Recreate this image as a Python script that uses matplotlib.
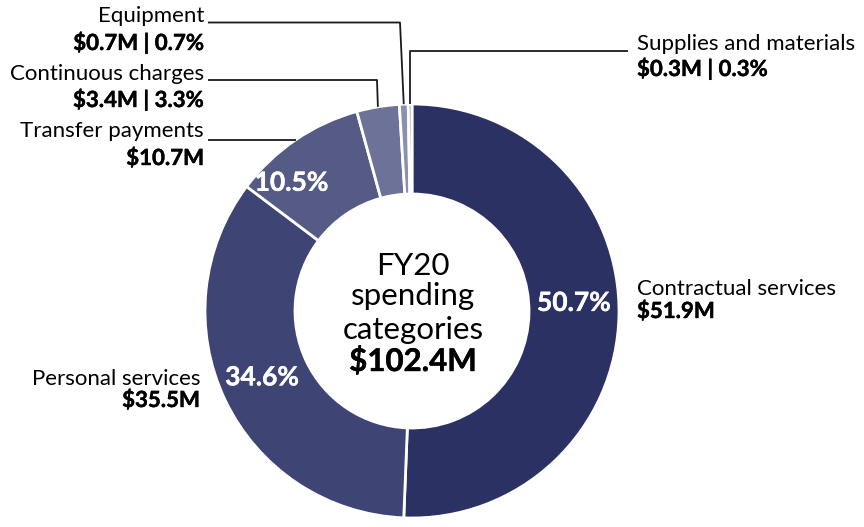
import numpy as np
import matplotlib.pyplot as plt
import matplotlib.patheffects as pe

plt.rcParams['font.family'] = ['Lato', 'DejaVu Sans']

# spending categories, clockwise from 12 o'clock
categories = ['Contractual services', 'Personal services', 'Transfer payments',
              'Continuous charges', 'Equipment', 'Supplies and materials']
amounts = [51.9, 35.5, 10.7, 3.4, 0.7, 0.3]
pct_labels = ['50.7%', '34.6%', '10.5%', '3.3%', '0.7%', '0.3%']
amount_labels = ['$51.9M', '$35.5M', '$10.7M', '$3.4M | 3.3%', '$0.7M | 0.7%', '$0.3M | 0.3%']
total_label = '$102.4M'
colors = ['#2b3162', '#3e4474', '#555b85', '#6d7299', '#8b8fb0', '#a3a7c2']

W, H = 864, 527
fig = plt.figure(figsize=(W / 100, H / 100), dpi=100)
ax = fig.add_axes([0, 0, 1, 1])
ax.set_xlim(0, W)
ax.set_ylim(0, H)
ax.set_aspect('equal')
ax.axis('off')


def Y(y):
    # image row -> data y
    return H - y


def thick(c):
    return [pe.withStroke(linewidth=0.3, foreground=c)]


cx, cy, R, ring = 412, 311, 207, 90
wedges, _ = ax.pie(amounts, colors=colors, startangle=90, counterclock=False,
                   center=(cx, Y(cy)), radius=R,
                   wedgeprops=dict(width=ring, edgecolor='white', linewidth=2))
ax.set_xlim(0, W)
ax.set_ylim(0, H)


def mid(i, r, shift=0):
    w = wedges[i]
    a = np.deg2rad((w.theta1 + w.theta2) / 2 + shift)
    return cx + r * np.cos(a), Y(cy) + r * np.sin(a)


# percent labels inside the ring for the big slices (radius, angle nudge)
pct_place = [(162, 4), (164, -1.5), (176, 9)]
for i, (r, s) in enumerate(pct_place):
    x, y = mid(i, r, s)
    ax.text(x, y, pct_labels[i], color='white', fontsize=19, fontweight='bold',
            ha='center', va='center', path_effects=thick('white'))

# centre text
ax.text(413, Y(275), 'FY20', fontsize=22.5, ha='center', va='baseline')
ax.text(413, Y(305), 'spending', fontsize=22.5, ha='center', va='baseline')
ax.text(413, Y(339), 'categories', fontsize=22.5, ha='center', va='baseline')
ax.text(413, Y(371), total_label, fontsize=22.5, fontweight='bold', ha='center', va='baseline',
        path_effects=thick('black'))

# outside labels: (x, name baseline, amount baseline, ha)
label_pos = [(637, 295, 318, 'left'),
             (200, 385, 407, 'right'),
             (204, 137, 165, 'right'),
             (204, 80, 107, 'right'),
             (204, 22, 50, 'right'),
             (637, 50, 76, 'left')]
for i, (x, yb1, yb2, ha) in enumerate(label_pos):
    ax.text(x, Y(yb1), categories[i], fontsize=16, ha=ha, va='baseline')
    ax.text(x, Y(yb2), amount_labels[i], fontsize=16, fontweight='bold', ha=ha, va='baseline',
            path_effects=thick('black'))

# leader lines
lc = dict(color='#1a1a1a', lw=1.3, solid_capstyle='butt')
x0, y0 = mid(2, R)
ax.plot([x0, 208], [y0, y0], **lc)
x0, y0 = mid(3, R)
ax.plot([x0, 377, 208], [y0, Y(80), Y(80)], **lc)
x0, y0 = mid(4, R)
ax.plot([x0, 400, 208], [y0, Y(22.5), Y(22.5)], **lc)
x0, y0 = mid(5, R)
ax.plot([x0, x0, 628], [y0, Y(50.5), Y(50.5)], **lc)

fig.savefig('out.png', dpi=100, facecolor='white')
